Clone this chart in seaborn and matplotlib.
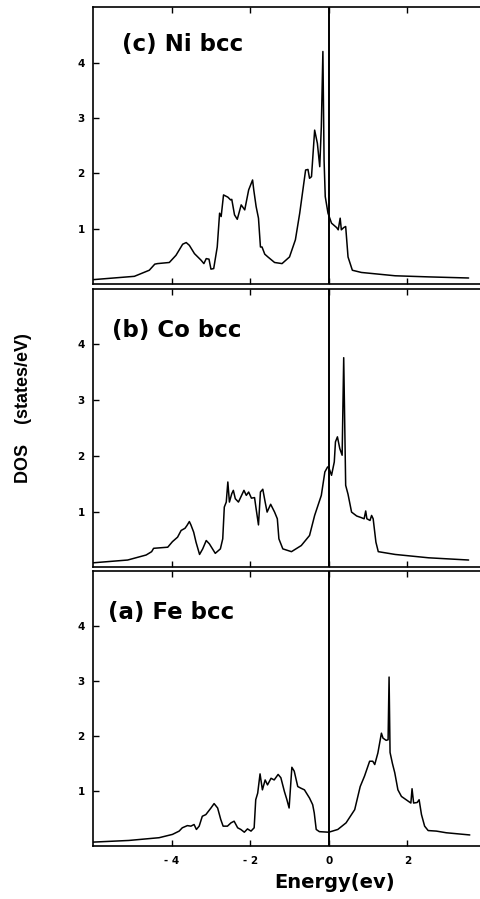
import numpy as np
import pandas as pd
from matplotlib import pyplot as plt
import seaborn as sns

# DOS curves (energy in eV, DOS in states/eV)
ni_energy = [-6.0, -4.95, -4.57, -4.43, -4.36, -4.06, -3.89, -3.72, -3.63, -3.55, -3.42, -3.25,
             -3.18, -3.12, -3.05, -3.0, -2.93, -2.84, -2.78, -2.74, -2.68, -2.57, -2.50, -2.47,
             -2.40, -2.33, -2.23, -2.14, -2.04, -1.94, -1.91, -1.85, -1.79, -1.74, -1.70, -1.63,
             -1.55, -1.38, -1.19, -1.0, -0.85, -0.74, -0.59, -0.53, -0.49, -0.44, -0.36, -0.29,
             -0.23, -0.19, -0.15, -0.12, -0.09, -0.02, 0.07, 0.20, 0.24, 0.29, 0.32, 0.38,
             0.43, 0.49, 0.60, 0.83, 1.69, 2.54, 3.56]
ni_dos = [0.08, 0.14, 0.25, 0.36, 0.37, 0.39, 0.52, 0.72, 0.75, 0.70, 0.55, 0.43,
          0.37, 0.46, 0.45, 0.27, 0.28, 0.67, 1.28, 1.22, 1.61, 1.57, 1.52, 1.53,
          1.25, 1.17, 1.43, 1.34, 1.70, 1.88, 1.70, 1.40, 1.19, 0.67, 0.67, 0.54,
          0.49, 0.39, 0.37, 0.49, 0.80, 1.28, 2.06, 2.07, 1.91, 1.94, 2.78, 2.54,
          2.12, 2.84, 4.20, 2.24, 1.58, 1.28, 1.10, 1.02, 0.98, 1.19, 0.98, 1.02,
          1.04, 0.49, 0.25, 0.21, 0.15, 0.13, 0.11]

co_energy = [-6.0, -5.12, -4.65, -4.51, -4.46, -4.10, -3.98, -3.85, -3.76, -3.66, -3.61, -3.55,
             -3.51, -3.44, -3.38, -3.29, -3.21, -3.12, -3.04, -2.89, -2.76, -2.70, -2.66, -2.61,
             -2.57, -2.53, -2.47, -2.43, -2.38, -2.30, -2.16, -2.10, -2.04, -1.97, -1.89, -1.85,
             -1.79, -1.74, -1.68, -1.62, -1.57, -1.48, -1.38, -1.31, -1.27, -1.17, -0.95, -0.70,
             -0.49, -0.36, -0.19, -0.10, -0.03, 0.0, 0.07, 0.14, 0.17, 0.22, 0.28, 0.34,
             0.38, 0.43, 0.49, 0.58, 0.71, 0.83, 0.90, 0.94, 0.97, 1.05, 1.09, 1.13,
             1.20, 1.26, 1.69, 2.54, 3.56]
co_dos = [0.08, 0.13, 0.22, 0.28, 0.34, 0.36, 0.46, 0.54, 0.66, 0.70, 0.75, 0.82,
          0.76, 0.63, 0.45, 0.23, 0.33, 0.48, 0.42, 0.25, 0.33, 0.51, 1.08, 1.17,
          1.53, 1.17, 1.32, 1.38, 1.23, 1.17, 1.38, 1.29, 1.35, 1.24, 1.25, 1.05,
          0.76, 1.35, 1.40, 1.17, 0.99, 1.13, 0.99, 0.87, 0.51, 0.33, 0.28, 0.39,
          0.57, 0.93, 1.29, 1.71, 1.80, 1.79, 1.65, 1.89, 2.25, 2.34, 2.13, 2.01,
          3.76, 1.47, 1.31, 0.99, 0.92, 0.89, 0.87, 1.01, 0.87, 0.84, 0.93, 0.87,
          0.45, 0.28, 0.23, 0.17, 0.13]

fe_energy = [-6.0, -5.09, -4.32, -3.98, -3.81, -3.73, -3.60, -3.51, -3.43, -3.37, -3.30, -3.22,
             -3.13, -3.00, -2.92, -2.83, -2.75, -2.69, -2.58, -2.49, -2.41, -2.32, -2.24, -2.15,
             -2.07, -1.98, -1.90, -1.86, -1.81, -1.75, -1.69, -1.62, -1.56, -1.47, -1.39, -1.29,
             -1.22, -1.13, -1.07, -1.01, -0.94, -0.88, -0.79, -0.71, -0.62, -0.49, -0.41, -0.37,
             -0.32, -0.24, 0.0, 0.23, 0.44, 0.66, 0.74, 0.80, 0.91, 1.04, 1.12, 1.17,
             1.25, 1.34, 1.38, 1.46, 1.51, 1.535, 1.56, 1.62, 1.68, 1.76, 1.85, 1.97,
             2.09, 2.12, 2.16, 2.25, 2.30, 2.36, 2.44, 2.53, 2.74, 2.99, 3.59]
fe_dos = [0.07, 0.10, 0.15, 0.21, 0.27, 0.33, 0.37, 0.36, 0.39, 0.30, 0.36, 0.54,
          0.57, 0.69, 0.77, 0.69, 0.48, 0.36, 0.36, 0.42, 0.45, 0.33, 0.30, 0.25,
          0.31, 0.27, 0.33, 0.84, 0.96, 1.31, 1.02, 1.20, 1.11, 1.23, 1.20, 1.30,
          1.24, 0.99, 0.85, 0.69, 1.43, 1.36, 1.08, 1.05, 1.02, 0.87, 0.75, 0.60,
          0.30, 0.26, 0.25, 0.30, 0.42, 0.66, 0.90, 1.08, 1.27, 1.54, 1.54, 1.48,
          1.69, 2.05, 1.96, 1.92, 1.93, 3.07, 1.70, 1.50, 1.33, 1.02, 0.90, 0.84,
          0.78, 1.04, 0.78, 0.79, 0.84, 0.57, 0.36, 0.28, 0.27, 0.24, 0.20]

panel_labels = ['(c) Ni bcc', '(b) Co bcc', '(a) Fe bcc']
x_ticks = [-4, -2, 0, 2]
x_tick_labels = ['- 4', '- 2', '0', '2']
y_ticks = [1, 2, 3, 4]

sns.set_style('ticks')
plt.rcParams['font.family'] = ['DejaVu Sans']
plt.rcParams['text.color'] = 'black'

fig = plt.figure(figsize=(4.8, 8.99), dpi=100)

# panel boxes in figure fractions (left, bottom, width, height)
boxes = [(0.194, 0.684, 0.806, 0.308),
         (0.194, 0.369, 0.806, 0.310),
         (0.194, 0.059, 0.806, 0.306)]
curves = [(ni_energy, ni_dos), (co_energy, co_dos), (fe_energy, fe_dos)]
label_pos = [(-5.27, 4.33), (-5.53, 4.24), (-5.61, 4.24)]

for i, (box, (en, dos), lab, pos) in enumerate(zip(boxes, curves, panel_labels, label_pos)):
    ax = fig.add_axes(box)
    df = pd.DataFrame({'energy': en, 'dos': dos})
    sns.lineplot(data=df, x='energy', y='dos', ax=ax, color='black', lw=1.1, sort=False)
    ax.axvline(0, color='black', lw=1.4)

    ax.set_xlim(-6, 3.85)
    ax.set_ylim(0, 5)
    ax.set_xlabel('')
    ax.set_ylabel('')

    ax.spines['right'].set_visible(False)
    for s in ['left', 'top', 'bottom']:
        ax.spines[s].set_linewidth(1.2)
        ax.spines[s].set_color('black')

    ax.set_xticks(x_ticks)
    ax.set_yticks(y_ticks)
    ax.tick_params(axis='both', direction='in', length=4, width=1.0, colors='black')
    ax.tick_params(axis='x', top=True, bottom=True, pad=7)
    ax.tick_params(axis='y', pad=6)
    ax.set_yticklabels([str(t) for t in y_ticks], fontsize=7.5, fontweight='bold')
    if i == 2:
        ax.set_xticklabels(x_tick_labels, fontsize=7.5, fontweight='bold')
    else:
        ax.set_xticklabels([])

    ax.text(pos[0], pos[1], lab, fontsize=16.5, fontweight='bold', ha='left', va='center')

fig.text(0.696, 0.018, 'Energy(ev)', fontsize=14, fontweight='bold', ha='center', va='center')
fig.text(0.048, 0.546, 'DOS    (states/eV)', rotation=90, fontsize=13, fontweight='bold',
         ha='center', va='center', family=['Liberation Sans', 'DejaVu Sans'])

fig.savefig('out.png', dpi=100)
